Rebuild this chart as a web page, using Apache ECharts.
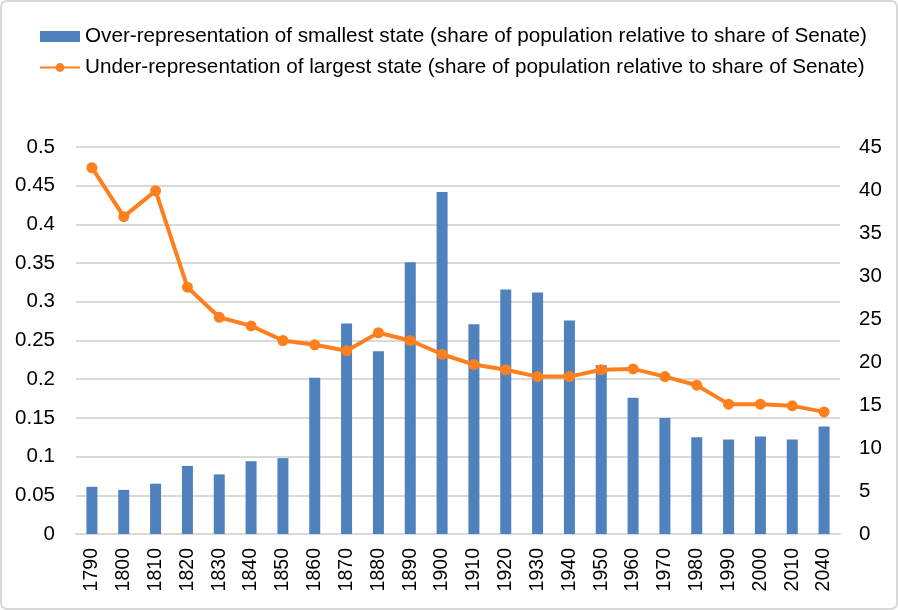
<!DOCTYPE html>
<html><head><meta charset="utf-8">
<script src="https://cdn.jsdelivr.net/npm/echarts@6/dist/echarts.min.js"></script>
<style>html,body{margin:0;padding:0;background:#fff}#c{width:898px;height:610px}</style>
</head><body><div id="c"></div>
<script>
var years = ['1790','1800','1810','1820','1830','1840','1850','1860','1870','1880','1890','1900','1910','1920','1930','1940','1950','1960','1970','1980','1990','2000','2010','2040'];
var smallest = [0.061,0.057,0.065,0.088,0.077,0.094,0.098,0.202,0.272,0.236,0.351,0.442,0.271,0.316,0.312,0.276,0.218,0.176,0.150,0.125,0.122,0.126,0.122,0.139];
var largest = [42.6,36.9,39.9,28.7,25.2,24.2,22.5,22.0,21.3,23.4,22.5,20.9,19.7,19.1,18.3,18.3,19.1,19.2,18.3,17.3,15.1,15.1,14.9,14.2];
var leftTicks = {min:0, max:0.5, interval:0.05};
var rightTicks = {min:0, max:45, interval:5};
var nameBar = 'Over-representation of smallest state (share of population relative to share of Senate)';
var nameLine = 'Under-representation of largest state (share of population relative to share of Senate)';

var chart = echarts.init(document.getElementById('c'), null, {renderer:'canvas'});
var font = '"Liberation Sans", Arial, Helvetica, sans-serif';
chart.setOption({
  animation:false,
  textStyle:{fontFamily:font},
  graphic:[{type:'rect', shape:{x:1,y:1,width:896,height:608,r:6}, style:{fill:null, stroke:'#d9d9d9', lineWidth:2}, silent:true, z:-1}],
  legend:{
    orient:'vertical', left:34, top:21, itemGap:10, itemWidth:40, itemHeight:11,
    textStyle:{fontSize:20.7, color:'#000', fontFamily:font},
    data:[{name:nameBar, icon:'rect'}, {name:nameLine}]
  },
  grid:{left:76, right:58, top:147, bottom:76, containLabel:false},
  xAxis:{
    type:'category', data:years,
    axisLine:{lineStyle:{color:'#d9d9d9', width:2}},
    axisTick:{show:false},
    axisLabel:{rotate:90, fontSize:19.5, color:'#000', margin:14, interval:0}
  },
  yAxis:[
    {type:'value', min:leftTicks.min, max:leftTicks.max, interval:leftTicks.interval,
     axisLabel:{fontSize:20.5, color:'#000', margin:21, formatter:function(v){return String(+v.toFixed(2));}},
     splitLine:{lineStyle:{color:'#d9d9d9', width:2}}, axisLine:{show:false}, axisTick:{show:false}},
    {type:'value', min:rightTicks.min, max:rightTicks.max, interval:rightTicks.interval, position:'right',
     axisLabel:{fontSize:20.5, color:'#000', margin:19},
     splitLine:{show:false}, axisLine:{show:false}, axisTick:{show:false}}
  ],
  series:[
    {name:nameBar, type:'bar', data:smallest, barWidth:11, yAxisIndex:0, itemStyle:{color:'#4f81bd'}},
    {name:nameLine, type:'line', data:largest, yAxisIndex:1, symbol:'circle', symbolSize:11,
     lineStyle:{color:'#ff7f1e', width:4}, itemStyle:{color:'#ff7f1e'}}
  ]
});
</script></body></html>
